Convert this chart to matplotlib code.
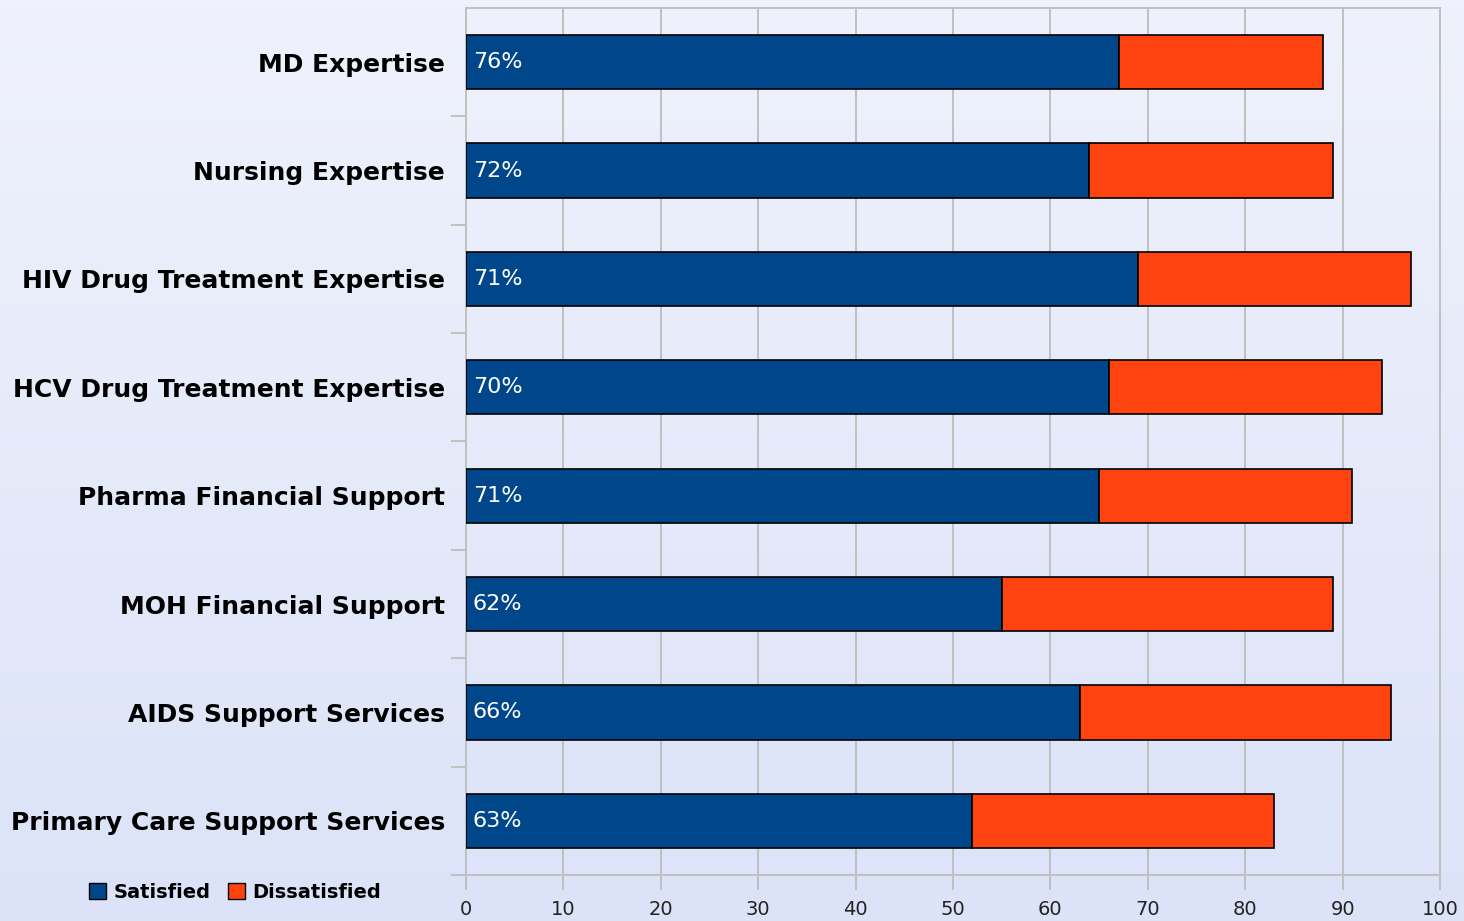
import numpy as np
import matplotlib
matplotlib.use("Agg")
import matplotlib.pyplot as plt
from matplotlib.patches import Patch

# data (top to bottom)
categories = ['MD Expertise', 'Nursing Expertise', 'HIV Drug Treatment Expertise',
              'HCV Drug Treatment Expertise', 'Pharma Financial Support',
              'MOH Financial Support', 'AIDS Support Services',
              'Primary Care Support Services']
satisfied = [67, 64, 69, 66, 65, 55, 63, 52]
dissatisfied = [21, 25, 28, 28, 26, 34, 32, 31]
pct_labels = ['76%', '72%', '71%', '70%', '71%', '62%', '66%', '63%']
xticks = [0, 10, 20, 30, 40, 50, 60, 70, 80, 90, 100]

blue = '#00468B'
orange = '#FF4310'
grid_c = '#C0C0C0'

fig = plt.figure(figsize=(14.64, 9.21), dpi=100)

# background gradient
bg = fig.add_axes([0, 0, 1, 1], zorder=-10)
grad = np.linspace(0, 1, 256).reshape(-1, 1)
top_c = np.array([0xEF, 0xF2, 0xFC]) / 255
bot_c = np.array([0xDC, 0xE3, 0xF8]) / 255
img = top_c[None, None, :] * (1 - grad[:, :, None]) + bot_c[None, None, :] * grad[:, :, None]
bg.imshow(img, aspect='auto', extent=[0, 1, 0, 1])
bg.axis('off')

ax = fig.add_axes([466 / 1464, 1 - 875 / 921, (1440 - 466) / 1464, (875 - 8) / 921])
ax.set_facecolor('none')

y = np.arange(len(categories))
b1 = ax.barh(y, satisfied, height=0.5, color=blue, edgecolor='black', linewidth=1.2, zorder=3)
b2 = ax.barh(y, dissatisfied, left=satisfied, height=0.5, color=orange,
             edgecolor='black', linewidth=1.2, zorder=3)

for yi, lab in zip(y, pct_labels):
    ax.text(0.7, yi, lab, color='white', fontsize=16, va='center', ha='left', zorder=4)

ax.set_xlim(0, 100)
ax.set_ylim(len(categories) - 0.5, -0.5)
ax.set_xticks(xticks)
ax.tick_params(axis='x', length=11, color=grid_c, width=1.4, labelsize=14,
               labelcolor='#222222', pad=7)
ax.set_yticks(y)
ax.set_yticklabels(categories, fontsize=18, fontweight='bold')
ax.tick_params(axis='y', length=0, pad=15)
ax.set_yticks(np.arange(len(categories)) + 0.5, minor=True)
ax.tick_params(axis='y', which='minor', length=11, color=grid_c, width=1.4)
ax.grid(axis='x', color=grid_c, linewidth=1.4, zorder=0)
for s in ax.spines.values():
    s.set_color(grid_c)
    s.set_linewidth(1.4)

handles = [Patch(facecolor=blue, edgecolor='black', label='Satisfied'),
           Patch(facecolor=orange, edgecolor='black', label='Dissatisfied')]
fig.legend(handles=handles, loc='lower left', bbox_to_anchor=(0.049, 0.002), ncol=2,
           frameon=False, handlelength=0.85, handleheight=0.85,
           handletextpad=0.4, columnspacing=0.9, prop={'weight': 'bold', 'size': 14})

fig.savefig('out.png', dpi=100)
